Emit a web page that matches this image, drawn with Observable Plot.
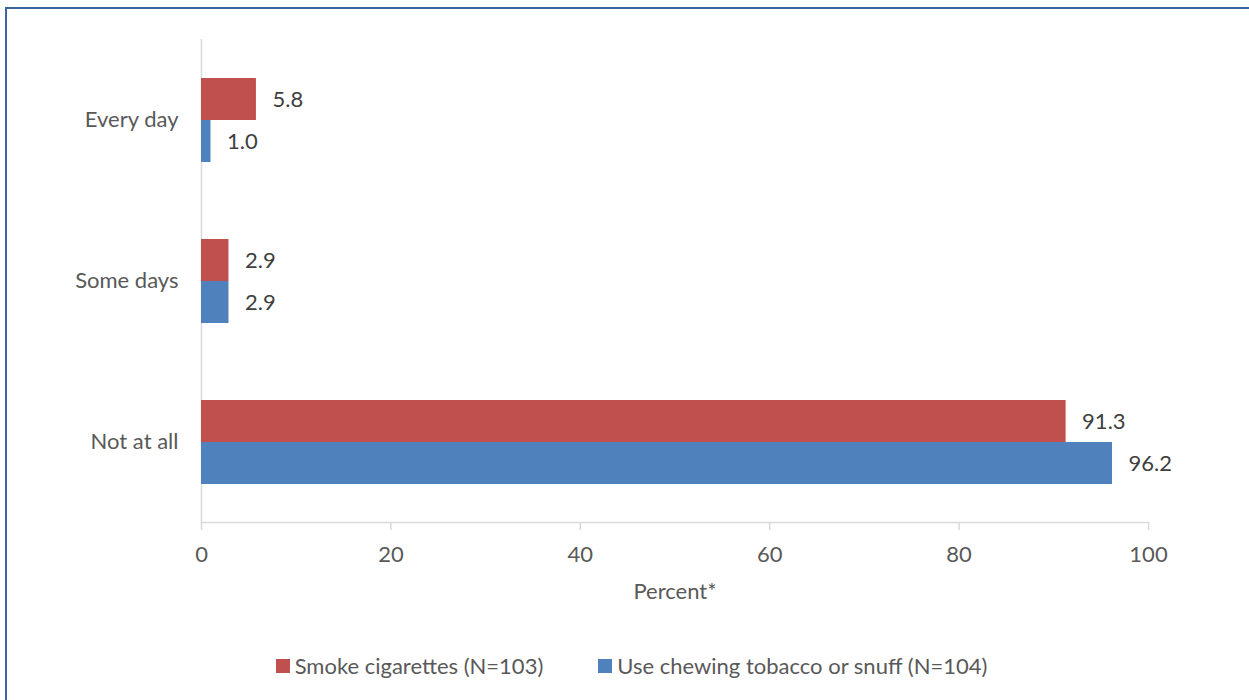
<!DOCTYPE html>
<html>
<head>
<meta charset="utf-8">
<script src="https://cdn.jsdelivr.net/npm/d3@7"></script>
<script src="https://cdn.jsdelivr.net/npm/@observablehq/plot@0.6"></script>
<style>
  html, body { margin: 0; padding: 0; background: #fff; width: 1249px; height: 700px; overflow: hidden; }
  body { position: relative; font-family: Lato, "Noto Sans", sans-serif; }
  #border { position: absolute; left: 5px; top: 7px; width: 1400px; height: 800px; border-left: 2px solid #3A66A0; border-top: 2px solid #3A66A0; box-sizing: border-box; }
  #chart { position: absolute; left: 0; top: 0; }
  #legend { position: absolute; left: 0; width: 1249px; top: 652px; display: flex; justify-content: center; gap: 55px; font-size: 22px; color: #595959; padding-left: 14px; box-sizing: border-box; }
  .item { display: flex; align-items: center; }
  .sw { width: 14px; height: 14px; margin-right: 5px; display: inline-block; }
</style>
</head>
<body>
<div id="border"></div>
<div id="chart"></div>
<div id="legend"></div>
<script>
const categories = ["Every day", "Some days", "Not at all"];
const seriesNames = ["Smoke cigarettes (N=103)", "Use chewing tobacco or snuff (N=104)"];
const smokeValues = [5.8, 2.9, 91.3];
const chewValues = [1.0, 2.9, 96.2];
const xTicks = [0, 20, 40, 60, 80, 100];
const colors = ["#C0504D", "#4F81BD"];

const rows = [];
categories.forEach((c, i) => {
  rows.push({cat: c, series: seriesNames[0], value: smokeValues[i]});
  rows.push({cat: c, series: seriesNames[1], value: chewValues[i]});
});

const font = "Lato, 'Noto Sans', sans-serif";
const chart = Plot.plot({
  width: 1249,
  height: 610,
  marginLeft: 201,
  marginRight: 101,
  marginTop: 38,
  marginBottom: 88,
  style: {fontFamily: font, fontSize: "22px", color: "#595959", background: "transparent"},
  x: {domain: [0, 100], ticks: xTicks},
  fy: {domain: categories, padding: 0},
  y: {domain: seriesNames, paddingInner: 0, paddingOuter: 0.88},
  color: {domain: seriesNames, range: colors},
  marks: [
    Plot.ruleX([0], {stroke: "#D9D9D9", strokeWidth: 1.5}),
    Plot.frame({anchor: "bottom", fy: "Not at all", stroke: "#D9D9D9", strokeWidth: 1.5}),
    Plot.barX(rows, {fy: "cat", y: "series", x: "value", fill: "series"}),
    Plot.text(rows, {fy: "cat", y: "series", x: "value", text: d => d.value.toFixed(1), textAnchor: "start", dx: 16, fill: "#404040", fontSize: 22}),
    Plot.axisX({ticks: xTicks, tickSize: 8, tickPadding: 16, stroke: "#D9D9D9", strokeWidth: 1.5, fill: "#595959", fontSize: 22,
      label: "Percent*", labelAnchor: "center", labelArrow: "none", labelOffset: 76}),
    Plot.axisY({ticks: [], label: null}),
    Plot.axisFy({anchor: "left", tickSize: 0, tickPadding: 23, label: null, fill: "#595959", fontSize: 22})
  ]
});
document.getElementById("chart").appendChild(chart);

const legend = document.getElementById("legend");
seriesNames.forEach((s, i) => {
  const item = document.createElement("div");
  item.className = "item";
  const sw = document.createElement("span");
  sw.className = "sw";
  sw.style.background = colors[i];
  const t = document.createElement("span");
  t.textContent = s;
  item.appendChild(sw);
  item.appendChild(t);
  legend.appendChild(item);
});
</script>
</body>
</html>
